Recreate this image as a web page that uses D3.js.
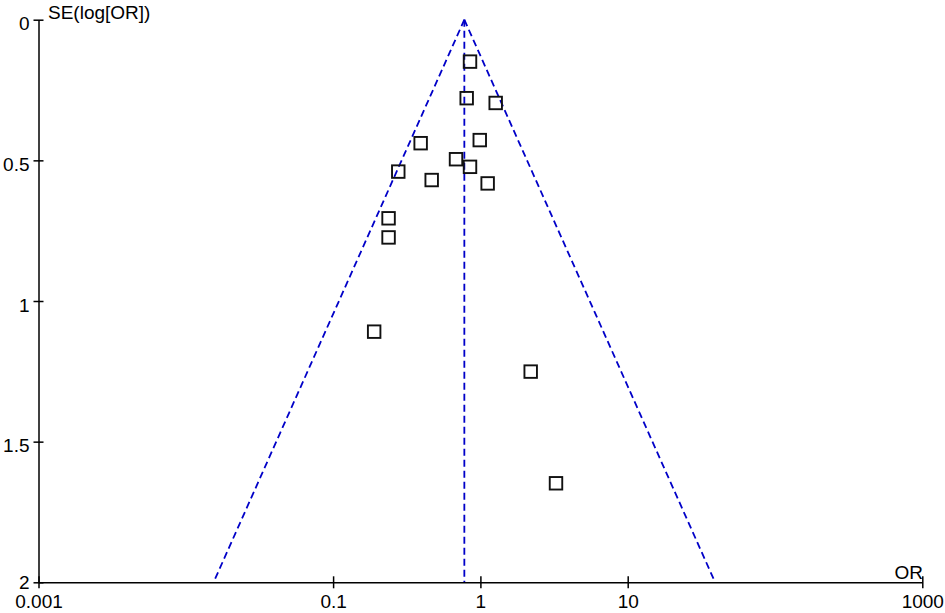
<!DOCTYPE html>
<html>
<head>
<meta charset="utf-8">
<script src="https://cdn.jsdelivr.net/npm/d3@7"></script>
<style>
  body { margin: 0; background: #fff; }
  text { font-family: "Liberation Sans", Arial, sans-serif; }
</style>
</head>
<body>
<svg id="chart" width="945" height="613"></svg>
<script>
// study estimates
var oddsRatios = [0.85, 0.807, 1.27, 0.393, 0.99, 0.683, 0.85, 0.277, 0.467, 1.12, 0.238, 0.238, 0.19, 2.195, 3.26];
var standardErrors = [0.149, 0.279, 0.296, 0.439, 0.428, 0.496, 0.523, 0.540, 0.570, 0.582, 0.706, 0.774, 1.109, 1.251, 1.648];
var pooledOR = 0.778;
var xTicks = [0.001, 0.1, 1, 10, 1000];
var yTicks = [0, 0.5, 1, 1.5, 2];

var svg = d3.select('#chart');

var x = d3.scaleLog().domain([0.001, 1000]).range([38.5, 922.3]);
var y = d3.scaleLinear().domain([0, 2]).range([19.7, 582.3]);

var blue = '#0000c8';
var fontSize = 19;

// funnel (95% pseudo confidence limits)
var seMax = 2;
var lo = Math.exp(Math.log(pooledOR) - 1.96 * seMax);
var hi = Math.exp(Math.log(pooledOR) + 1.96 * seMax);

var funnel = svg.append('g')
  .attr('fill', 'none')
  .attr('stroke', blue)
  .attr('stroke-width', 1.8)
  .attr('stroke-dasharray', '7,4');

funnel.append('line')
  .attr('x1', x(pooledOR)).attr('y1', y(0))
  .attr('x2', x(lo)).attr('y2', y(seMax));
funnel.append('line')
  .attr('x1', x(pooledOR)).attr('y1', y(0))
  .attr('x2', x(hi)).attr('y2', y(seMax));
funnel.append('line')
  .attr('x1', x(pooledOR)).attr('y1', y(0))
  .attr('x2', x(pooledOR)).attr('y2', y(seMax));

// axes
var xAxis = svg.append('g')
  .attr('transform', 'translate(0,' + y(2) + ')')
  .call(d3.axisBottom(x).tickValues(xTicks).tickSizeOuter(0).tickFormat(function (d) { return String(d); }));
xAxis.selectAll('.tick line').attr('y1', -6).attr('y2', 6).attr('stroke-width', 1.5);
xAxis.selectAll('.tick text').attr('y', 0).attr('dy', 26).attr('font-size', fontSize).attr('fill', '#000');
xAxis.select('.domain').attr('stroke-width', 1.5);

var yAxis = svg.append('g')
  .attr('transform', 'translate(' + x(0.001) + ',0)')
  .call(d3.axisLeft(y).tickValues(yTicks).tickSizeOuter(0).tickFormat(function (d) { return String(d); }));
yAxis.selectAll('.tick line').attr('x1', -5).attr('x2', 5).attr('stroke-width', 1.5);
yAxis.selectAll('.tick text').attr('x', -9)
  .attr('dy', function (d) { return d === 2 ? 6 : 10; })
  .attr('font-size', fontSize).attr('fill', '#000');
yAxis.select('.domain').attr('stroke-width', 1.5);
svg.selectAll('g').filter(function () { return this.getAttribute('font-family'); }).attr('font-family', null);

svg.append('text')
  .attr('x', 48).attr('y', 19)
  .attr('font-size', fontSize)
  .text('SE(log[OR])');

svg.append('text')
  .attr('x', 923).attr('y', 579)
  .attr('text-anchor', 'end')
  .attr('font-size', fontSize)
  .text('OR');

// study squares
var studies = oddsRatios.map(function (d, i) { return { or: d, se: standardErrors[i] }; });
var s = 12.5;
svg.append('g')
  .selectAll('rect')
  .data(studies)
  .enter().append('rect')
  .attr('x', function (d) { return x(d.or) - s / 2; })
  .attr('y', function (d) { return y(d.se) - s / 2; })
  .attr('width', s)
  .attr('height', s)
  .attr('fill', 'none')
  .attr('stroke', '#111')
  .attr('stroke-width', 1.9);
</script>
</body>
</html>
